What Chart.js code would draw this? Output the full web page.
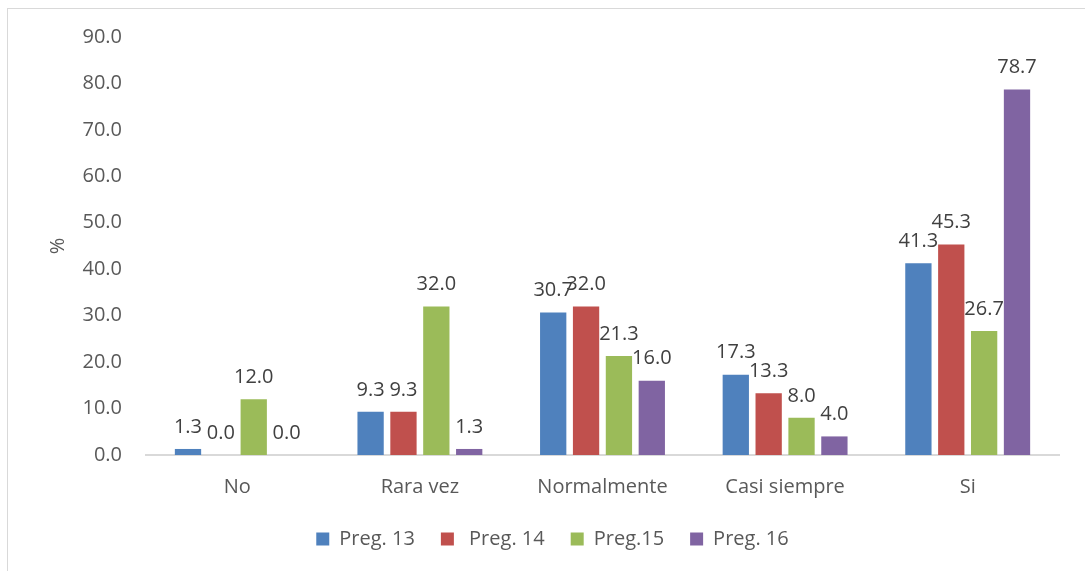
<!DOCTYPE html>
<html>
<head>
<meta charset="utf-8">
<script src="https://cdn.jsdelivr.net/npm/chart.js@4.4.1/dist/chart.umd.min.js"></script>
<style>
  html, body { margin: 0; padding: 0; background: #fff; }
  #marco {
    position: absolute; left: 7px; top: 8px; width: 1090px; height: 570px;
    border: 1px solid #d9d9d9; box-sizing: border-box;
  }
  #caja { position: absolute; left: 0; top: 0; width: 1085px; height: 571px; }
</style>
</head>
<body>
<div id="marco"></div>
<div id="caja"><canvas id="grafico"></canvas></div>
<script>
// Datos
const categorias = ['No', 'Rara vez', 'Normalmente', 'Casi siempre', 'Si'];
const preg13 = [1.3, 9.3, 30.7, 17.3, 41.3];
const preg14 = [0.0, 9.3, 32.0, 13.3, 45.3];
const preg15 = [12.0, 32.0, 21.3, 8.0, 26.7];
const preg16 = [0.0, 1.3, 16.0, 4.0, 78.7];
const nombresSeries = ['Preg. 13', ' Preg. 14', 'Preg.15', 'Preg. 16'];
const coloresSeries = ['#4f81bd', '#c0504d', '#9bbb59', '#8064a2'];

const fuente = "'Open Sans', sans-serif";

// Etiquetas de valor sobre cada barra
const etiquetasValor = {
    id: 'etiquetasValor',
    afterDatasetsDraw(chart) {
        const ctx = chart.ctx;
        ctx.save();
        ctx.font = '20px ' + fuente;
        ctx.fillStyle = '#404040';
        ctx.textAlign = 'center';
        ctx.textBaseline = 'middle';
        chart.data.datasets.forEach((ds, i) => {
            const meta = chart.getDatasetMeta(i);
            meta.data.forEach((bar, j) => {
                ctx.fillText(ds.data[j].toFixed(1), bar.x, bar.y - 22);
            });
        });
        ctx.restore();
    }
};

const series = [preg13, preg14, preg15, preg16];

new Chart(document.getElementById('grafico'), {
    type: 'bar',
    data: {
        labels: categorias,
        datasets: series.map((d, i) => ({
            label: nombresSeries[i],
            data: d,
            backgroundColor: coloresSeries[i],
            categoryPercentage: 0.72,
            barPercentage: 0.8
        }))
    },
    options: {
        responsive: true,
        maintainAspectRatio: false,
        animation: false,
        layout: { padding: { left: 46, right: 26, top: 37, bottom: 12 } },
        plugins: {
            tooltip: { enabled: false },
            legend: {
                position: 'bottom',
                labels: {
                    color: '#595959',
                    font: { family: fuente, size: 20 },
                    boxWidth: 13,
                    boxHeight: 13,
                    padding: 26
                }
            }
        },
        scales: {
            y: {
                min: 0,
                max: 90,
                ticks: {
                    stepSize: 10,
                    color: '#595959',
                    font: { family: fuente, size: 20 },
                    padding: 16,
                    callback: v => v.toFixed(1)
                },
                grid: { display: false },
                border: { display: false },
                title: {
                    display: true,
                    text: '%',
                    color: '#595959',
                    font: { family: fuente, size: 20 },
                    padding: 0
                },
                afterFit(scale) { scale.width = 100; }
            },
            x: {
                ticks: {
                    color: '#595959',
                    font: { family: fuente, size: 20 },
                    padding: 12
                },
                grid: { display: false },
                border: { display: true, color: '#d9d9d9', width: 2 },
                afterFit(scale) { scale.height -= 8; }
            }
        }
    },
    plugins: [etiquetasValor]
});
</script>
</body>
</html>
